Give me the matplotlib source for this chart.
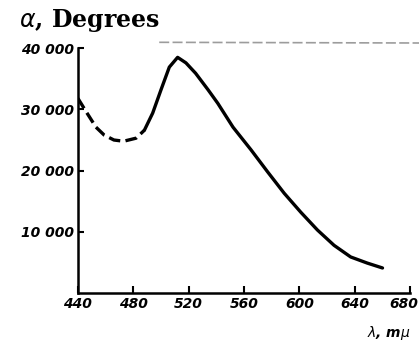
import numpy as np
import matplotlib.pyplot as plt
import matplotlib.transforms as mtransforms
from matplotlib.lines import Line2D

# dashed part of the curve (uncertain region)
lam_dash = [440, 446, 453, 459, 466, 473, 482, 488]
alpha_dash = [31800, 29600, 27100, 25800, 25000, 24800, 25300, 26600]

# solid part of the curve
lam_solid = [488, 494, 500, 506, 512, 518, 525, 534, 541, 552, 565, 577,
             589, 601, 613, 625, 637, 649, 660]
alpha_solid = [26600, 29400, 33200, 36900, 38500, 37600, 35900, 33200, 31000,
               27100, 23400, 19800, 16300, 13200, 10300, 7800, 5900, 4900, 4100]

xticks = [440, 480, 520, 560, 600, 640, 680]
yticks = [10000, 20000, 30000, 40000]
ytick_labels = ['10 000', '20 000', '30 000', '40 000']

fig = plt.figure(figsize=(4.19, 3.44), dpi=100)
ax = fig.add_axes([0.186, 0.148, 0.793, 0.712])

ax.plot(lam_dash, alpha_dash, color='black', lw=2.4, dashes=(3.5, 1.6),
        solid_joinstyle='round')
ax.plot(lam_solid, alpha_solid, color='black', lw=2.4, solid_capstyle='round',
        solid_joinstyle='round')

ax.set_xlim(440, 680)
ax.set_ylim(0, 40000)
ax.spines['top'].set_visible(False)
ax.spines['right'].set_visible(False)
for s in ['left', 'bottom']:
    ax.spines[s].set_linewidth(1.8)

ax.set_xticks(xticks)
ax.set_xticklabels([str(x) for x in xticks])
ax.set_yticks(yticks)
ax.set_yticklabels(ytick_labels)
ax.tick_params(axis='x', direction='in', length=5, width=1.5, pad=3)
ax.tick_params(axis='y', direction='in', length=4, width=1.5, pad=3)
for lab in ax.get_xticklabels() + ax.get_yticklabels():
    lab.set_fontsize(10)
    lab.set_fontweight('bold')
    lab.set_fontstyle('italic')

# keep the last x label inside the figure
last = ax.get_xticklabels()[-1]
last.set_transform(last.get_transform() +
                   mtransforms.ScaledTranslation(-6 / 100, 0, fig.dpi_scale_trans))

fig.text(0.045, 0.9, r'$\alpha$, Degrees', fontsize=17, fontweight='bold',
         family='DejaVu Serif', ha='left', va='bottom')
fig.text(0.98, 0.005, r'$\lambda$, m$\mu$', fontsize=10, fontweight='bold',
         style='italic', ha='right', va='bottom')

# faint scan line along the top
fig.add_artist(Line2D([0.38, 1.0], [0.877, 0.875], color='0.45', lw=1.2,
                      ls=(0, (6, 2)), alpha=0.7))

fig.savefig('out.png', dpi=100)
